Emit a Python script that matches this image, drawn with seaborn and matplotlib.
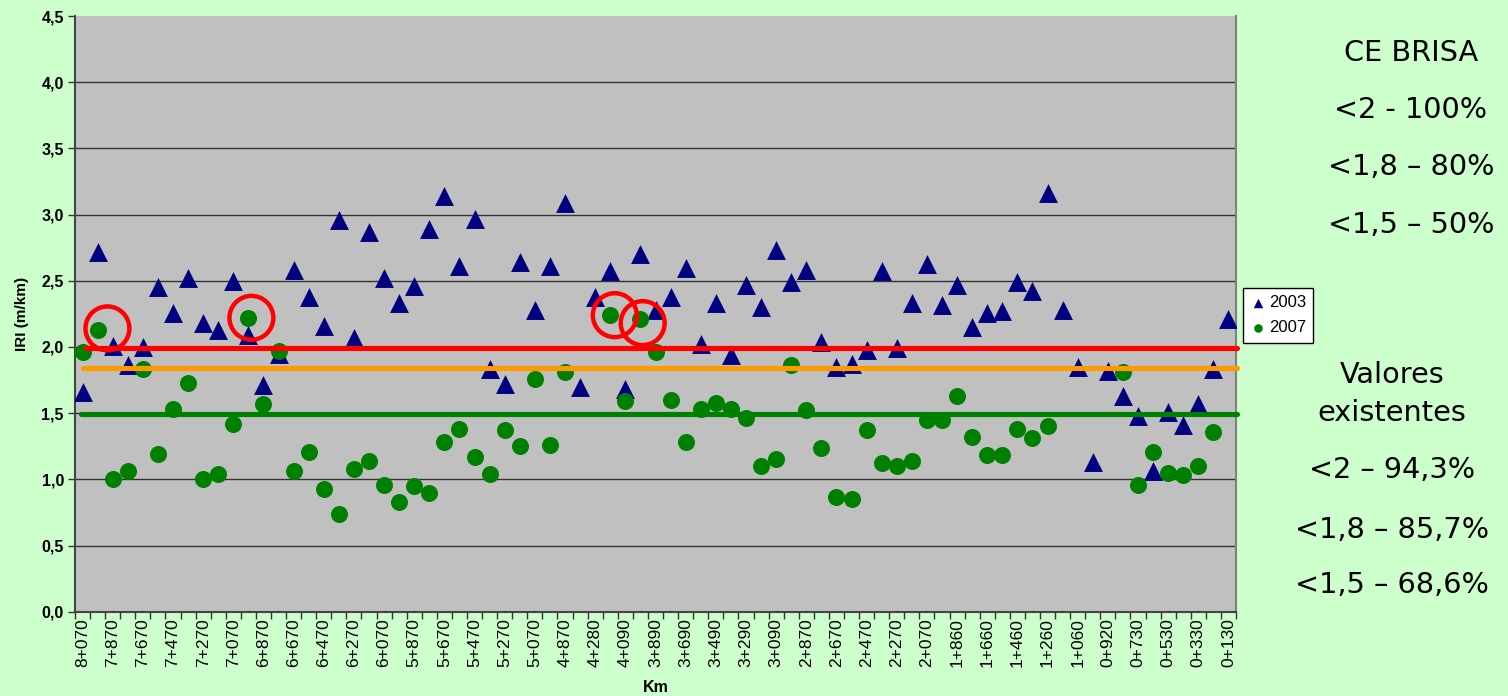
import numpy as np
import pandas as pd
import matplotlib
matplotlib.use("Agg")
import matplotlib.pyplot as plt
import seaborn as sns
from matplotlib.ticker import FuncFormatter, FixedLocator

# ---------------- data ----------------
km = ["8+070","7+970","7+870","7+770","7+670","7+570","7+470","7+370","7+270","7+170",
      "7+070","6+970","6+870","6+770","6+670","6+570","6+470","6+370","6+270","6+170",
      "6+070","5+970","5+870","5+770","5+670","5+570","5+470","5+370","5+270","5+170",
      "5+070","4+970","4+870","4+770","4+280","4+190","4+090","3+990","3+890","3+790",
      "3+690","3+590","3+490","3+390","3+290","3+190","3+090","2+970","2+870","2+770",
      "2+670","2+570","2+470","2+370","2+270","2+170","2+070","1+960","1+860","1+760",
      "1+660","1+560","1+460","1+360","1+260","1+160","1+060","0+990","0+920","0+830",
      "0+730","0+630","0+530","0+430","0+330","0+230","0+130"]

iri_2003 = [1.66, 2.72, 2.01, 1.86, 2.00, 2.45, 2.26, 2.52, 2.18, 2.13,
            2.50, 2.09, 1.71, 1.95, 2.58, 2.38, 2.16, 2.96, 2.07, 2.87,
            2.52, 2.33, 2.46, 2.89, 3.14, 2.61, 2.97, 1.83, 1.72, 2.64,
            2.28, 2.61, 3.09, 1.70, 2.38, 2.57, 1.68, 2.70, 2.28, 2.38,
            2.60, 2.02, 2.33, 1.94, 2.47, 2.30, 2.73, 2.49, 2.58, 2.04,
            1.85, 1.87, 1.98, 2.57, 1.99, 2.33, 2.63, 2.32, 2.47, 2.15,
            2.26, 2.27, 2.49, 2.42, 3.16, 2.28, 1.85, 1.13, 1.82, 1.63,
            1.48, 1.06, 1.51, 1.41, 1.57, 1.83, 2.21]

nan = np.nan
iri_2007 = [1.96, 2.13, 1.00, 1.06, 1.83, 1.19, 1.53, 1.73, 1.00, 1.04,
            1.42, 2.22, 1.57, 1.97, 1.06, 1.21, 0.93, 0.74, 1.08, 1.14,
            0.96, 0.83, 0.95, 0.90, 1.28, 1.38, 1.17, 1.04, 1.37, 1.25,
            1.76, 1.26, 1.81, nan, nan, 2.24, 1.59, 2.21, 1.96, 1.60,
            1.28, 1.53, 1.58, 1.53, 1.46, 1.10, 1.15, 1.86, 1.52, 1.24,
            0.87, 0.85, 1.37, 1.12, 1.10, 1.14, 1.45, 1.45, 1.63, 1.32,
            1.18, 1.18, 1.38, 1.31, 1.40, nan, nan, nan, nan, 1.81,
            0.96, 1.21, 1.05, 1.03, 1.10, 1.36, nan]

thresholds = [1.99, 1.84, 1.495]          # red, orange, green reference lines
highlight_idx = [1, 11, 35, 37]           # 2007 points circled in red

series_names = ["2003", "2007"]
y_ticks = [0.0, 0.5, 1.0, 1.5, 2.0, 2.5, 3.0, 3.5, 4.0, 4.5]

side_top = ["CE BRISA", "<2 - 100%", "<1,8 \u2013 80%", "<1,5 \u2013 50%"]
side_bottom = ["Valores", "existentes", "<2 \u2013 94,3%", "<1,8 \u2013 85,7%", "<1,5 \u2013 68,6%"]

# ---------------- figure ----------------
sns.set_theme(style="white")
plt.rcParams['font.family'] = ['DejaVu Sans']
plt.rcParams['text.color'] = 'black'
plt.rcParams['axes.labelcolor'] = 'black'
plt.rcParams['xtick.color'] = 'black'
plt.rcParams['ytick.color'] = 'black'

BG = "#CCFFCC"
fig = plt.figure(figsize=(15.08, 6.96), dpi=100, facecolor=BG)
ax = fig.add_axes([75/1508, 1 - 611.7/696, (1236 - 75)/1508, (611.7 - 16)/696])
ax.set_facecolor("#C0C0C0")

pos = np.arange(len(km))
df = pd.DataFrame({"pos": pos, "2003": iri_2003, "2007": iri_2007})

sns.scatterplot(data=df, x="pos", y="2003", marker="^", s=185, color="#000080",
                edgecolor="#000080", linewidth=0, ax=ax, label=series_names[0], zorder=3)
sns.scatterplot(data=df.dropna(subset=["2007"]), x="pos", y="2007", marker="o", s=150,
                color="#008000", edgecolor="#008000", linewidth=0, ax=ax,
                label=series_names[1], zorder=4)

# reference lines
line_colors = ["#FF0000", "#FF9900", "#008000"]
line_starts = [0.0095, 0.0070, 0.0050]
for val, c, x0 in zip(thresholds, line_colors, line_starts):
    ax.axhline(val, xmin=x0, xmax=1.001, color=c, lw=3.7, zorder=5, clip_on=False)

# red highlight circles
hx_off = [0.65, 0.2, 0.3, 0.15]
hy_off = [0.01, 0.0, 0.0, -0.03]
hx = [pos[i] + o for i, o in zip(highlight_idx, hx_off)]
hy = [iri_2007[i] + o for i, o in zip(highlight_idx, hy_off)]
ax.scatter(hx, hy, s=1000, facecolors="none", edgecolors="#FF0000", linewidths=3.2, zorder=6)

# axes
ax.set_xlim(-0.5, len(km) - 0.5)
ax.set_ylim(0, 4.5)
ax.yaxis.set_major_locator(FixedLocator(y_ticks))
ax.yaxis.set_major_formatter(FuncFormatter(lambda v, p: f"{v:.1f}".replace(".", ",")))
for t in y_ticks[1:-1]:
    ax.axhline(t, color="#333333", lw=1.0, zorder=1)

ax.set_xticks(pos[::2])
ax.set_xticklabels(km[::2], rotation=90, fontsize=12.5, fontfamily="Liberation Sans")
ax.set_xticks(np.arange(-0.5, len(km), 1.0), minor=True)
ax.tick_params(axis="x", which="major", length=0, pad=4.5)
ax.tick_params(axis="x", which="minor", length=5, width=1, color="#333333", direction="out", bottom=True)
ax.tick_params(axis="y", which="major", length=5, width=1, color="#333333", direction="out", left=True,
               labelsize=11.5, pad=3)
for lab in ax.get_yticklabels():
    lab.set_fontweight("bold")
    lab.set_fontfamily("Liberation Sans")

ax.set_xlabel("Km", fontsize=11.5, fontweight="bold", fontfamily="Liberation Sans", labelpad=9.5)
ax.set_ylabel("IRI (m/km)", fontsize=11, fontweight="bold", fontfamily="Liberation Sans", labelpad=9)

for side in ["left", "bottom"]:
    ax.spines[side].set_color("#444444")
    ax.spines[side].set_linewidth(1.5)
ax.spines["right"].set_color("#808080")
ax.spines["right"].set_linewidth(1.5)
ax.spines["top"].set_visible(False)

leg = ax.legend(loc="center left", bbox_to_anchor=(1243/1508, 1 - 315/696),
                bbox_transform=fig.transFigure, frameon=True, fancybox=False,
                edgecolor="black", facecolor="white", framealpha=1, markerscale=0.5,
                prop={"family": "Liberation Sans", "size": 12}, handletextpad=0.2,
                borderpad=0.45, labelspacing=0.6, handlelength=0.9, borderaxespad=0)
leg.get_frame().set_linewidth(1.0)

# side text
FS = 20.7
top_y = [53, 110, 167, 225]
for s, y in zip(side_top, top_y):
    fig.text(1411/1508, 1 - y/696, s, ha="center", va="center", fontsize=FS,
             fontfamily="DejaVu Sans", color="black")
bot_y = [375, 413, 470, 530, 585]
for s, y in zip(side_bottom, bot_y):
    fig.text(1392/1508, 1 - y/696, s, ha="center", va="center", fontsize=FS,
             fontfamily="DejaVu Sans", color="black")

fig.savefig("out.png", dpi=100, facecolor=BG)
